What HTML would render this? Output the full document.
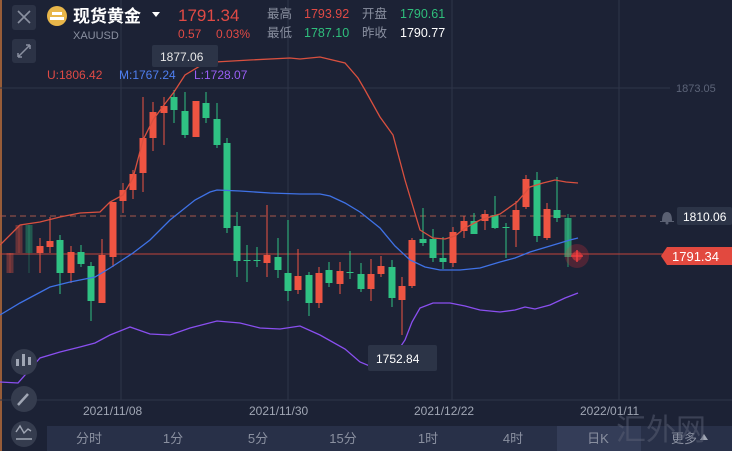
<!DOCTYPE html>
<html><head><meta charset="utf-8"><style>
html,body{margin:0;padding:0;background:#1c2235;width:732px;height:451px;overflow:hidden}
svg{display:block}
text{font-family:"Liberation Sans","Noto Sans CJK SC",sans-serif}
</style></head><body>
<svg id="s" width="732" height="451" viewBox="0 0 732 451" xmlns="http://www.w3.org/2000/svg">
<rect width="732" height="451" fill="#1c2235"/>
<line x1="1" y1="0" x2="1" y2="451" stroke="#c0703a" stroke-width="1.5"/>
<g stroke="#2e3549" stroke-width="1">
<line x1="121" y1="0" x2="121" y2="400"/><line x1="288" y1="0" x2="288" y2="400"/>
<line x1="452" y1="0" x2="452" y2="400"/><line x1="619" y1="0" x2="619" y2="400"/>
<line x1="0" y1="88" x2="670" y2="88"/><line x1="0" y1="400" x2="732" y2="400"/>
</g>
<line x1="0" y1="216" x2="660" y2="216" stroke="#a8584c" stroke-dasharray="6,4" stroke-width="1"/>
<line x1="0" y1="254" x2="665" y2="254" stroke="#c0443b" stroke-width="1"/>
<g id="c"></g>
<polyline fill="none" stroke="#d9503f" stroke-width="1.3" points="0,245 20,225 40,222 60,217 80,213 100,212 110,202 123,195 133,178 143,140 153,120 164,105 174,92 185,75 200,66 215,62 250,60 290,58 300,59 320,57 345,63 358,78 365,90 380,117 393,135 405,180 420,230 433,238 445,239 455,236 465,228 480,220 500,214 517,202 530,187 543,183 555,180 566,182 578,183"/>
<polyline fill="none" stroke="#3f72e6" stroke-width="1.3" points="0,315 20,303 50,287 70,282 95,277 110,268 133,253 150,240 170,220 195,200 210,192 217,190 240,191 270,193 300,194 320,194 330,196 345,203 360,212 380,228 395,246 410,260 425,267 440,270 460,270 480,268 500,262 515,258 530,252 550,246 570,240 578,238"/>
<polyline fill="none" stroke="#8a4ff0" stroke-width="1.3" points="0,382 18,383 40,358 60,352 80,347 95,343 110,335 130,327 150,334 170,335 190,328 217,321 240,323 260,328 280,329 300,326 320,335 345,349 360,362 372,367 385,364 395,355 405,340 412,322 420,308 433,303 450,303 465,306 480,310 500,312 515,310 525,307 535,309 550,305 565,298 578,293"/>
<circle cx="577" cy="256" r="12" fill="#e0303a" opacity="0.25"/>
<circle cx="577" cy="256" r="5" fill="#ff3a3a" opacity="0.5"/>
<path d="M571 256h12M577 250v12" stroke="#ff4040" stroke-width="1.3"/>
<!-- header -->
<rect x="12" y="5" width="24" height="25" rx="3" fill="#2c3346"/>
<path d="M18 11l12 12M30 11l-12 12" stroke="#8a90a0" stroke-width="1.6"/>
<rect x="12" y="39" width="24" height="24" rx="3" fill="#2c3346"/>
<path d="M18 57l12-12M18 57h4M18 57v-4M30 45h-4M30 45v4" stroke="#8a90a0" stroke-width="1.5" fill="none"/>
<circle cx="57" cy="16" r="10" fill="#e8b64a"/>
<rect x="52" y="12" width="10" height="3" fill="#fff"/><rect x="50" y="17" width="14" height="3" fill="#fff"/>
<text x="73" y="22" font-size="17" fill="#fff" font-weight="bold">现货黄金</text>
<path d="M152 12h8l-4 5z" fill="#fff"/>
<text x="178" y="21" font-size="17" fill="#e04a45">1791.34</text>
<text x="73" y="39" font-size="11" fill="#8a90a0">XAUUSD</text>
<text x="178" y="38" font-size="12" fill="#e04a45">0.57</text>
<text x="216" y="38" font-size="12" fill="#e04a45">0.03%</text>
<g font-size="12.5"><text x="267" y="18" fill="#8a90a0">最高</text>
<text x="304" y="18" fill="#e04a45">1793.92</text>
<text x="362" y="18" fill="#8a90a0">开盘</text>
<text x="400" y="18" fill="#2fbf7c">1790.61</text>
<text x="267" y="37" fill="#8a90a0">最低</text>
<text x="304" y="37" fill="#2fbf7c">1787.10</text>
<text x="362" y="37" fill="#8a90a0">昨收</text>
<text x="400" y="37" fill="#fff">1790.77</text></g>
<rect x="152" y="45" width="66" height="22" rx="2" fill="#2c3447"/>
<text x="160" y="61" font-size="12" fill="#e8e8e8">1877.06</text>
<text x="47" y="79" font-size="12" fill="#e04a45">U:1806.42</text>
<text x="119" y="79" font-size="12" fill="#4f7ff0">M:1767.24</text>
<text x="194" y="79" font-size="12" fill="#9a5ff5">L:1728.07</text>
<rect x="368" y="345" width="69" height="26" rx="2" fill="#2c3447"/>
<text x="376" y="363" font-size="12" fill="#fff">1752.84</text>
<!-- right -->
<text x="676" y="92" font-size="11" fill="#5c6478">1873.05</text>
<path d="M662 221q0-9 5-9q5 0 5 9h2v1h-14v-1z" fill="#5a6072"/><circle cx="667" cy="223" r="1.5" fill="#5a6072"/>
<rect x="677" y="207" width="55" height="18" rx="2" fill="#2c3447"/>
<text x="683" y="221" font-size="12" fill="#fff">1810.06</text>
<path d="M661 256l6-9h65v18h-65z" fill="#e2493f"/>
<text x="672" y="261" font-size="13" fill="#fff">1791.34</text>
<!-- left icons -->
<g fill="#353c4e"><circle cx="24" cy="362" r="13"/><circle cx="24" cy="399" r="13"/><circle cx="24" cy="434" r="13"/></g>
<g fill="#a0a6b4"><rect x="16" y="359" width="3" height="7"/><rect x="22" y="354" width="3" height="12"/><rect x="28" y="357" width="3" height="8"/></g>
<path d="M18 405l10-11" stroke="#a0a6b4" stroke-width="2.5"/>
<path d="M16 432l4-6 4 7 4-4 3 2M16 439h16" stroke="#a0a6b4" stroke-width="1.4" fill="none"/>
<!-- dates -->
<g font-size="12" fill="#a0a6b4"><text x="83" y="415">2021/11/08</text><text x="249" y="415">2021/11/30</text><text x="414" y="415">2021/12/22</text><text x="580" y="415">2022/01/11</text></g>
<rect x="47" y="426" width="685" height="25" fill="#283048"/>
<rect x="557" y="426" width="84" height="25" fill="#343d58"/>
<g font-size="13" fill="#8a90a0" text-anchor="middle"><text x="89" y="443">分时</text><text x="173" y="443">1分</text><text x="258" y="443">5分</text><text x="343" y="443">15分</text><text x="428" y="443">1时</text><text x="513" y="443">4时</text><text x="598" y="443">日K</text><text x="684" y="443">更多</text></g>
<path d="M700 440l4-6 4 6z" fill="#a0a6b4"/>
<text x="616" y="440" font-size="30" fill="#5a6075" opacity="0.5">汇外网</text>
</svg>
<script>
var d=[[10,253,273,253,273,'rf'],[19,225,253,225,253,'rf'],[29,225,253,225,273,'gf'],[40,246,253,238,273,'r'],[50,241,247,217,253,'r'],[60,240,273,235,294,'g'],[71,252,273,246,283,'r'],[81,252,264,245,267,'g'],[91,266,301,262,321,'g'],[102,255,303,239,303,'r'],[113,202,257,202,267,'r'],[123,190,201,183,213,'r'],[133,174,190,170,199,'r'],[143,138,173,97,192,'r'],[153,112,138,102,151,'r'],[164,106,113,97,145,'r'],[174,97,110,90,123,'g'],[185,111,135,92,138,'g'],[196,101,137,101,137,'r'],[206,103,118,92,123,'g'],[217,119,145,103,148,'g'],[227,143,228,138,233,'g'],[237,226,261,212,277,'g'],[247,260,261,245,282,'g'],[257,260,261,247,267,'g'],[267,255,263,205,277,'r'],[278,257,270,238,278,'g'],[288,273,291,220,301,'g'],[298,276,290,249,294,'r'],[309,275,303,272,316,'g'],[319,273,303,267,308,'r'],[329,270,283,262,287,'g'],[340,271,284,262,294,'r'],[350,272,273,251,279,'g'],[361,274,289,263,292,'g'],[371,274,289,259,301,'r'],[381,266,274,256,277,'r'],[392,267,298,260,307,'g'],[402,286,300,277,335,'r'],[412,240,286,238,288,'r'],[423,239,243,208,246,'g'],[433,239,258,229,262,'g'],[443,258,262,237,269,'g'],[453,232,263,227,267,'r'],[464,221,231,216,238,'r'],[474,221,234,213,234,'g'],[485,214,221,210,230,'r'],[495,215,228,196,229,'g'],[506,227,228,223,258,'g'],[516,210,230,201,247,'r'],[526,179,207,175,209,'r'],[537,180,236,172,242,'g'],[547,209,238,203,240,'r'],[557,210,218,177,222,'g'],[568,218,257,214,267,'g']];
var g=document.getElementById('c'),h='';
d.forEach(function(c){var col=c[5][0]=='r'?'#ee5442':'#2fc283';var op=c[5].length>1?0.35:(c[0]==568?0.7:1);
h+='<line x1="'+c[0]+'" y1="'+c[3]+'" x2="'+c[0]+'" y2="'+c[4]+'" stroke="'+col+'" stroke-width="1" opacity="'+op+'"/>';
var hh=Math.max(1,c[2]-c[1]);h+='<rect x="'+(c[0]-3.5)+'" y="'+c[1]+'" width="7" height="'+hh+'" fill="'+col+'" opacity="'+op+'"/>';});
g.innerHTML=h;
</script>
</body></html>
